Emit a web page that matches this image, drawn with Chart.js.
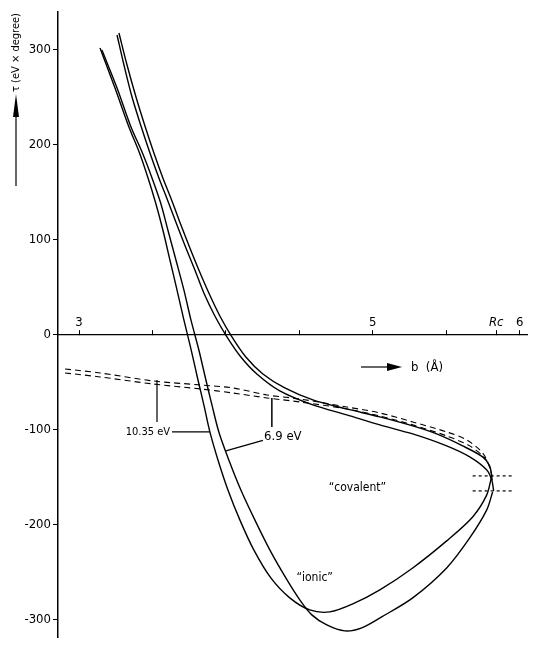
<!DOCTYPE html>
<html><head><meta charset="utf-8">
<script src="https://cdn.jsdelivr.net/npm/chart.js@4/dist/chart.umd.min.js"></script>
<style>html,body{margin:0;padding:0;background:#fff}canvas{display:block}</style>
</head><body>
<canvas id="c" width="554" height="653"></canvas>
<script>
// ---- tick definitions ----
const xTickValues = [3, 3.5, 4, 4.5, 5, 5.5, 5.84, 6];
const xTickLabels = ['3', '', '', '', '5', '', 'Rc', '6'];
const yTickValues = [-300, -200, -100, 0, 100, 200, 300];
const yTickLabels = ['-300', '-200', '-100', '0', '100', '200', '300'];

// ---- curves: [b (Å), τ (eV·degree)] ----
const ionic1035 = [[3.143,302.1],[3.245,260],[3.340,218.9],[3.412,191.6],[3.470,165.3],[3.522,138.9],[3.571,110.5],[3.619,78.9],[3.667,47.4],[3.714,15.8],[3.762,-14.7],[3.810,-47.4],[3.850,-73.7],[3.891,-102.1],[3.946,-131.6],[4.014,-163.2],[4.095,-194.7],[4.190,-226.3],[4.306,-255.8],[4.435,-276.8],[4.571,-289.5],[4.707,-291.6],[4.864,-283.2],[5.048,-268.4],[5.272,-245.3],[5.503,-216.8],[5.680,-191.6],[5.776,-168.4],[5.810,-148.4]];
const ionic69 = [[3.156,300],[3.259,260],[3.354,218.9],[3.432,191.6],[3.497,165.3],[3.556,138.9],[3.605,110.5],[3.660,78.9],[3.714,47.4],[3.762,15.8],[3.816,-15.8],[3.864,-47.4],[3.905,-73.7],[3.952,-102.1],[4.020,-131.6],[4.102,-163.2],[4.197,-194.7],[4.299,-226.3],[4.408,-255.8],[4.503,-278.9],[4.585,-294.7],[4.687,-305.3],[4.810,-311.6],[4.925,-308.4],[5.061,-296.8],[5.272,-276.8],[5.503,-245.3],[5.660,-213.7],[5.776,-184.2],[5.816,-165.3]];
const covalent1035 = [[3.272,317.9],[3.327,284.2],[3.388,250.5],[3.449,220],[3.510,191.6],[3.571,165.3],[3.633,141.1],[3.694,115.8],[3.755,91.6],[3.816,68.4],[3.884,44.2],[3.959,20],[4.041,-2],[4.136,-23.2],[4.252,-41.1],[4.401,-55.8],[4.592,-68.4],[4.823,-77.9],[5.048,-86.3],[5.272,-95.8],[5.435,-104.2],[5.612,-116.8],[5.748,-128.4],[5.796,-137.9],[5.810,-148.4]];
const covalent69 = [[3.259,315.8],[3.306,284.2],[3.361,250.5],[3.422,220],[3.483,191.6],[3.544,165.3],[3.605,141.1],[3.667,115.8],[3.728,91.6],[3.789,68.4],[3.850,44.2],[3.925,20],[4.007,-2],[4.102,-23.2],[4.211,-41.1],[4.367,-58.9],[4.592,-73.7],[4.823,-84.2],[5.048,-94.7],[5.272,-104.2],[5.503,-116.8],[5.660,-128.4],[5.776,-142.1],[5.810,-152.6],[5.823,-164.2]];
const dashedUpper = [[2.905,-35.8],[3.143,-40],[3.503,-48.4],[3.823,-52.6],[4.048,-55.8],[4.279,-63.2],[4.503,-67.4],[4.823,-75.8],[5.048,-82.1],[5.272,-91.6],[5.503,-102.1],[5.639,-110.5],[5.748,-124.2],[5.796,-139],[5.810,-148]];
const dashedLower = [[2.905,-40],[3.143,-44.2],[3.503,-51.6],[3.823,-56.8],[4.048,-61.1],[4.279,-66.3],[4.503,-70.5],[4.823,-77.9],[5.048,-85.3],[5.272,-94.7],[5.503,-106.3],[5.660,-116.8],[5.762,-129.5],[5.803,-142.1],[5.815,-155]];
// leader lines and turning-point markers
const lead1035V = [[3.531,-47.4],[3.531,-91.6]];
const lead1035H = [[3.633,-102.1],[3.891,-102.1]];
const lead69V = [[4.313,-66.3],[4.313,-96.8]];
const lead69D = [[4.0,-122],[4.252,-111]];
const markHigh = [[5.680,-148.4],[5.946,-148.4]];
const markLow = [[5.680,-164.2],[5.946,-164.2]];

const FONT = '"Liberation Sans Narrow","DejaVu Sans Condensed","Roboto Condensed",Roboto,sans-serif';
const pts = a => a.map(p => ({x: p[0], y: p[1]}));
function line(data, opts) {
  return Object.assign({data: pts(data), showLine: true, pointRadius: 0, borderColor: '#000',
    borderWidth: 1.4, tension: 0.3, fill: false}, opts || {});
}

const annot = {
  id: 'annot',
  afterDraw(chart) {
    const {ctx, scales: {x, y}} = chart;
    ctx.save();
    ctx.fillStyle = '#000';
    ctx.strokeStyle = '#000';
    ctx.textBaseline = 'middle';
    ctx.font = '11px ' + FONT;
    ctx.textAlign = 'right';
    ctx.fillText('10.35 eV', x.getPixelForValue(3.62), y.getPixelForValue(-102));
    ctx.textAlign = 'left';
    ctx.font = '13px ' + FONT;
    ctx.fillText('6.9 eV', x.getPixelForValue(4.26), y.getPixelForValue(-107));
    ctx.font = '12px ' + FONT;
    ctx.fillText('\u201Cionic\u201D', x.getPixelForValue(4.48), y.getPixelForValue(-256));
    ctx.fillText('\u201Ccovalent\u201D', x.getPixelForValue(4.70), y.getPixelForValue(-161));
    // x axis title with arrow
    ctx.lineWidth = 1.2;
    ctx.beginPath(); ctx.moveTo(361, 367); ctx.lineTo(390, 367); ctx.stroke();
    ctx.beginPath(); ctx.moveTo(387, 363); ctx.lineTo(402, 367); ctx.lineTo(387, 371); ctx.closePath(); ctx.fill();
    ctx.font = '13px ' + FONT;
    ctx.fillText('b  (\u00C5)', 411, 368);
    // y axis title with arrow
    ctx.beginPath(); ctx.moveTo(16, 186); ctx.lineTo(16, 112); ctx.stroke();
    ctx.beginPath(); ctx.moveTo(13, 117); ctx.lineTo(16, 94); ctx.lineTo(19, 117); ctx.closePath(); ctx.fill();
    ctx.translate(16, 92);
    ctx.rotate(-Math.PI / 2);
    ctx.font = '11px ' + FONT;
    ctx.fillText('\u03C4 (eV \u00D7 degree)', 0, 0);
    ctx.restore();
  }
};

new Chart(document.getElementById('c'), {
  type: 'scatter',
  data: {
    datasets: [
      line(ionic1035),
      line(ionic69),
      line(covalent1035),
      line(covalent69),
      line(dashedUpper, {borderDash: [6, 4], borderWidth: 1.1}),
      line(dashedLower, {borderDash: [6, 4], borderWidth: 1.1}),
      line(lead1035V, {tension: 0, borderWidth: 1.2}),
      line(lead1035H, {tension: 0, borderWidth: 1.2}),
      line(lead69V, {tension: 0, borderWidth: 1.5}),
      line(lead69D, {tension: 0, borderWidth: 1.2}),
      line(markHigh, {tension: 0, borderDash: [3, 3], borderWidth: 1.2}),
      line(markLow, {tension: 0, borderDash: [3, 3], borderWidth: 1.2})
    ]
  },
  options: {
    responsive: false,
    animation: false,
    layout: {padding: {left: 0, right: 27, top: 12, bottom: 16}},
    plugins: {legend: {display: false}, tooltip: {enabled: false}},
    scales: {
      x: {
        type: 'linear',
        min: 2.857, max: 6.05,
        position: {y: 0},
        afterBuildTicks: s => { s.ticks = xTickValues.map(v => ({value: v})); },
        grid: {display: true, drawOnChartArea: false, drawTicks: true, tickLength: -5, color: '#000'},
        border: {display: true, color: '#000', width: 1.2},
        ticks: {
          padding: -15,
          color: '#000',
          maxRotation: 0,
          autoSkip: false,
          font: c => ({family: FONT, size: 13, style: (c.tick && c.tick.value === 5.84) ? 'italic' : 'normal'}),
          callback: (v, i) => xTickLabels[i]
        }
      },
      y: {
        type: 'linear',
        min: -318, max: 340,
        afterBuildTicks: s => { s.ticks = yTickValues.map(v => ({value: v})); },
        afterFit: s => { s.width = 58; },
        grid: {display: true, drawOnChartArea: false, drawTicks: true, tickLength: 5, color: '#000'},
        border: {display: true, color: '#000', width: 1.5},
        ticks: {
          padding: 2,
          color: '#000',
          font: {family: FONT, size: 13},
          callback: (v, i) => yTickLabels[i]
        }
      }
    }
  },
  plugins: [annot]
});
</script>
</body></html>
